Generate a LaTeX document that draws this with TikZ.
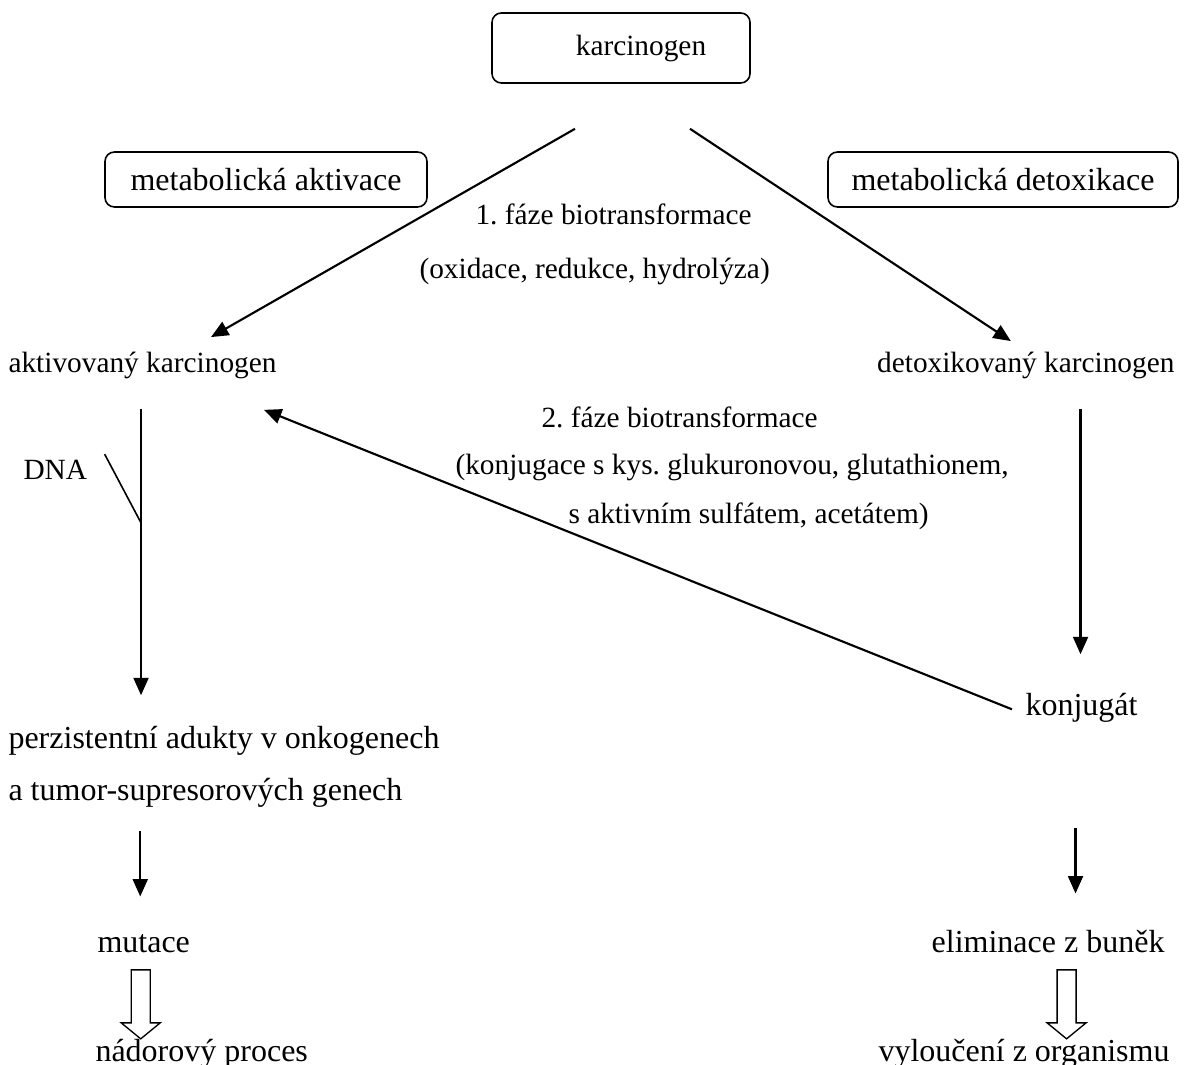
\documentclass[tikz,border=0pt]{standalone}
\usepackage{fontspec}
\setmainfont{Liberation Serif}
\usetikzlibrary{arrows.meta,calc}
\frenchspacing

\begin{document}
\begin{tikzpicture}[x=0.375pt, y=-0.375pt,
  box/.style={draw, rounded corners=3.5pt, line width=0.6pt,
    inner sep=0pt, font=\fontsize{12}{14}\selectfont},
  lbl/.style={inner sep=0pt, font=\fontsize{11}{13}\selectfont},
  big/.style={inner sep=0pt, font=\fontsize{12}{14}\selectfont},
  arr/.style={-{Triangle[length=6.5pt, width=5.6pt]}, line width=0.8pt},
  hollow/.style={draw, line width=0.5pt, fill=white}]

\useasboundingbox (0,0) rectangle (1189,1065);

% Framed labels
\node[box, font=\fontsize{11}{13}\selectfont,
  minimum width=96.75pt, minimum height=26.25pt] (kar) at (621,48)
  {\hspace*{15pt}karcinogen};
\node[box, minimum width=120.75pt, minimum height=20.6pt] (aktbox)
  at (266,179.5) {metabolická aktivace};
\node[box, minimum width=131.25pt, minimum height=20.6pt] (detbox)
  at (1003,179.5) {metabolická detoxikace};

% Stages
\node[lbl, anchor=base west] (akt) at (8,373) {aktivovaný karcinogen};
\node[lbl, anchor=base east] (det) at (1175,373) {detoxikovaný karcinogen};
\node[big, anchor=base west] (per1) at (8,748)
  {perzistentní adukty v onkogenech};
\node[big, anchor=base west] (per2) at (8,800)
  {a tumor-supresorových genech};
\node[big, anchor=base west] (kon) at (1025,715) {konjugát};
\node[big, anchor=base west] (mut) at (97,952) {mutace};
\node[big, anchor=base east] (elim) at (1165,952) {eliminace z buněk};
\node[big, anchor=base west] (nad) at (95,1061) {nádorový proces};
\node[big, anchor=base east] (vyl) at (1170,1061) {vyloučení z organismu};

% Phase notes
\node[lbl, anchor=base west] (ph1) at (475,225) {1. fáze biotransformace};
\node[lbl, anchor=base west] (ph1b) at (419,279)
  {(oxidace, redukce, hydrolýza)};
\node[lbl, anchor=base west] (ph2) at (541,428) {2. fáze biotransformace};
\node[lbl, anchor=base west] (ph2b) at (455,475)
  {(konjugace s kys. glukuronovou, glutathionem,};
\node[lbl, anchor=base west] (ph2c) at (568,524)
  {s aktivním sulfátem, acetátem)};
\node[lbl, anchor=base west] (dna) at (23,480) {DNA};

% Arrows
\draw[arr] ($(kar.south)+(-46,45)$) -- ($(akt.north)+(68.5,-15)$);
\draw[arr] ($(kar.south)+(69,45)$) -- ($(det.north)+(-15,-11)$);
\draw[arr] ($(akt.south)+(-1.5,29)$) -- ($(akt.south |- per1.north)+(-1.5,-30)$);
\draw[line width=0.6pt] ($(dna.north east)+(17,-6)$) -- ($(akt.south)+(-1.5,143)$);
\draw[arr] ($(det.south -| kon.north)+(-1,29)$) -- ($(kon.north)+(-1,-38)$);
\draw[arr] ($(kon.west)+(-13,2)$) -- ($(akt.south east)+(-13,30)$);
\draw[arr] ($(mut.north)+(-3.5,-102)$) -- ($(mut.north)+(-3.5,-37)$);
\draw[arr] ($(kon.south)+(-6,106)$) -- ($(kon.south)+(-6,171)$);

% Hollow arrows
\draw[hollow] ($(mut.south)+(-12.5,17)$) -- ++(0,53) -- ++(-10,0)
  -- ++(19.5,16) -- ++(19.5,-16) -- ++(-10,0) -- ++(0,-53) -- cycle;
\draw[hollow] ($(elim.south)+(9,17)$) -- ++(0,53) -- ++(-10,0)
  -- ++(19.5,16) -- ++(19.5,-16) -- ++(-10,0) -- ++(0,-53) -- cycle;

\end{tikzpicture}
\end{document}
